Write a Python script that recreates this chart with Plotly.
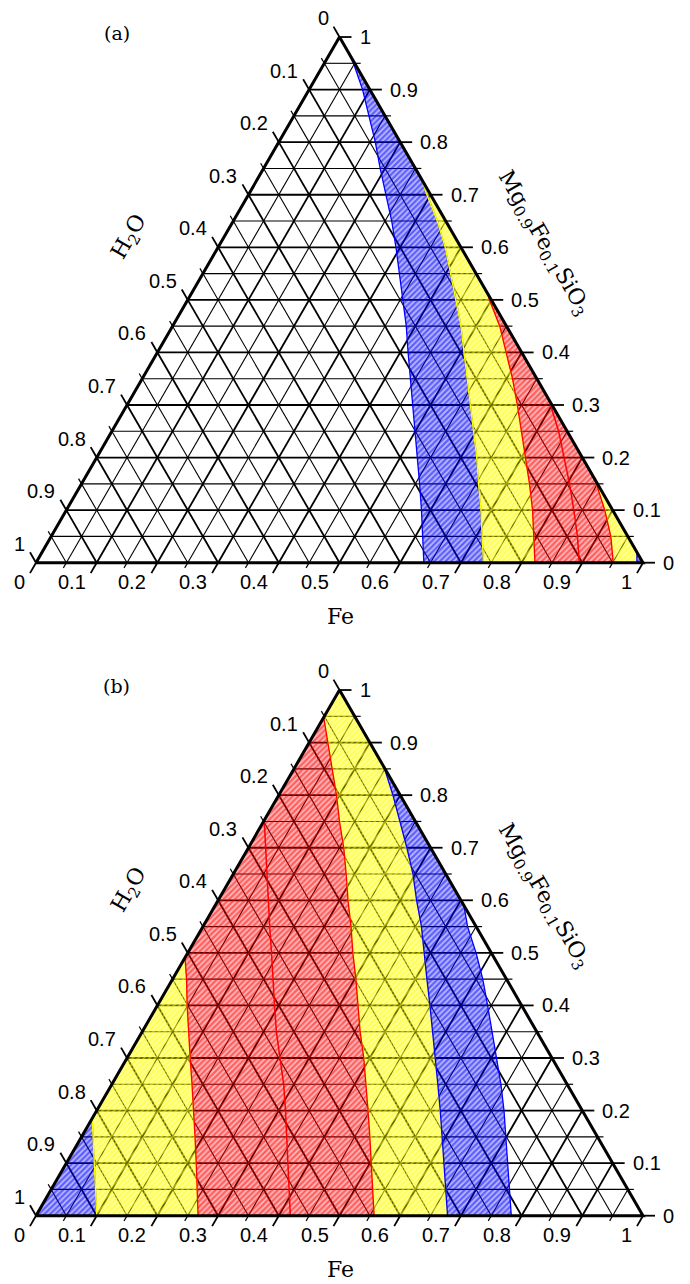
import numpy as np
import plotly.graph_objects as go

# ticks shared by the three axes of both diagrams
TICK_VALUES = [0.0, 0.1, 0.2, 0.3, 0.4, 0.5, 0.6, 0.7, 0.8, 0.9, 1.0]
TICK_TEXT = ["0", "0.1", "0.2", "0.3", "0.4", "0.5", "0.6", "0.7", "0.8", "0.9", "1"]
MINOR_VALUES = [0.05, 0.15, 0.25, 0.35, 0.45, 0.55, 0.65, 0.75, 0.85, 0.95]
MAJOR_VALUES = [0.1, 0.2, 0.3, 0.4, 0.5, 0.6, 0.7, 0.8, 0.9]

# boundary curves as (Mg0.9Fe0.1SiO3, Fe) fractions, from the edge downwards
# panel (a)
A_BLUE_LEFT = [(0.972, 0.028), (0.95, 0.048), (0.90, 0.088), (0.85, 0.124), (0.80, 0.159),
               (0.75, 0.192), (0.70, 0.226), (0.65, 0.261), (0.60, 0.293), (0.55, 0.324),
               (0.50, 0.354), (0.45, 0.385), (0.40, 0.413), (0.35, 0.442), (0.30, 0.470),
               (0.25, 0.499), (0.20, 0.528), (0.15, 0.557), (0.10, 0.585), (0.05, 0.612),
               (0.0, 0.639)]
A_BLUE_YELLOW = [(0.731, 0.269), (0.70, 0.294), (0.65, 0.336), (0.60, 0.374), (0.55, 0.408),
                 (0.50, 0.442), (0.45, 0.475), (0.40, 0.505), (0.35, 0.535), (0.30, 0.565),
                 (0.25, 0.596), (0.20, 0.626), (0.15, 0.654), (0.10, 0.683), (0.05, 0.710),
                 (0.0, 0.737)]
A_YELLOW_RED = [(0.512, 0.488), (0.50, 0.497), (0.45, 0.539), (0.40, 0.575), (0.35, 0.610),
                (0.30, 0.643), (0.25, 0.675), (0.20, 0.707), (0.15, 0.738), (0.10, 0.768),
                (0.05, 0.795), (0.0, 0.822)]
A_RED_INNER = [(0.31, 0.69), (0.25, 0.736), (0.20, 0.770), (0.15, 0.804), (0.10, 0.836),
               (0.05, 0.867), (0.0, 0.895)]
A_RED_YELLOW = [(0.158, 0.842), (0.10, 0.887), (0.05, 0.922), (0.0, 0.951)]
A_YELLOW_BLUE = [(0.02, 0.98), (0.0, 0.99)]

# panel (b)
B_BLUE_YELLOW = [(0.185, 0.0), (0.15, 0.019), (0.10, 0.047), (0.05, 0.073), (0.0, 0.100)]
B_YELLOW_RED = [(0.491, 0.0), (0.45, 0.023), (0.40, 0.049), (0.35, 0.076), (0.30, 0.104),
                (0.25, 0.132), (0.20, 0.160), (0.15, 0.187), (0.10, 0.214), (0.05, 0.241),
                (0.0, 0.267)]
B_RED_INNER = [(0.752, 0.0), (0.70, 0.028), (0.65, 0.056), (0.60, 0.082), (0.55, 0.110),
               (0.50, 0.138), (0.45, 0.165), (0.40, 0.193), (0.35, 0.221), (0.30, 0.252),
               (0.25, 0.283), (0.20, 0.311), (0.15, 0.338), (0.10, 0.366), (0.05, 0.393),
               (0.0, 0.419)]
B_RED_YELLOW = [(0.948, 0.0), (0.90, 0.031), (0.85, 0.063), (0.80, 0.095), (0.75, 0.125),
                (0.70, 0.157), (0.65, 0.186), (0.60, 0.214), (0.55, 0.244), (0.50, 0.272),
                (0.45, 0.302), (0.40, 0.330), (0.35, 0.359), (0.30, 0.390), (0.25, 0.419),
                (0.20, 0.447), (0.15, 0.475), (0.10, 0.502), (0.05, 0.530), (0.0, 0.557)]
B_YELLOW_BLUE = [(0.853, 0.147), (0.80, 0.188), (0.75, 0.225), (0.70, 0.261), (0.65, 0.296),
                 (0.60, 0.327), (0.55, 0.360), (0.50, 0.390), (0.45, 0.419), (0.40, 0.449),
                 (0.35, 0.479), (0.30, 0.508), (0.25, 0.537), (0.20, 0.566), (0.15, 0.594),
                 (0.10, 0.623), (0.05, 0.650), (0.0, 0.678)]
B_BLUE_WHITE = [(0.59, 0.41), (0.55, 0.436), (0.50, 0.475), (0.45, 0.511), (0.40, 0.544),
                (0.35, 0.576), (0.30, 0.608), (0.25, 0.641), (0.20, 0.671), (0.15, 0.699),
                (0.10, 0.728), (0.05, 0.755), (0.0, 0.783)]

BOTTOM_LEFT = [(0.0, 0.0)]
BOTTOM_RIGHT = [(0.0, 1.0)]
TOP = [(1.0, 0.0)]

# stripe colour and the light tint between the stripes
BLUE = ("#0000ff", "rgba(0,0,255,0.25)")
YELLOW = ("#ffff00", "rgba(255,255,0,0.35)")
RED = ("#ff0000", "rgba(255,0,0,0.25)")

# page geometry (pixels)
W, H = 690, 1284
SIDE = 607.0
LEFT = 36.0
BASE_A = 562.7
BASE_B = 1215.7
S3 = np.sqrt(3) / 2
TICK_MAJOR = 12 / SIDE
TICK_MINOR = 6 / SIDE
TICK_FONT = dict(family="Liberation Sans, Arial, sans-serif", size=20, color="black")
TITLE_FONT = dict(family="DejaVu Serif, serif", size=22, color="black")


def to_xy(points):
    mg = np.array([p[0] for p in points])
    fe = np.array([p[1] for p in points])
    return fe + mg / 2, mg * S3


def segments(pairs):
    xs, ys = [], []
    for p, q in pairs:
        x, y = to_xy([p, q])
        xs += list(x) + [None]
        ys += list(y) + [None]
    return xs, ys


def grid_pairs(values):
    pairs = []
    for v in values:
        pairs.append(((v, 0.0), (v, 1 - v)))      # constant Mg
        pairs.append(((0.0, v), (1 - v, v)))      # constant Fe
        pairs.append(((0.0, 1 - v), (1 - v, 0.0)))  # constant H2O
    return pairs


def tick_lines(values, length):
    xs, ys = [], []
    for v in values:
        # left edge, H2O = v
        x, y = to_xy([(1 - v, 0.0)])
        xs += [x[0], x[0] - 0.5 * length, None]
        ys += [y[0], y[0] + S3 * length, None]
        # bottom edge, Fe = v
        x, y = to_xy([(0.0, v)])
        xs += [x[0], x[0] - 0.5 * length, None]
        ys += [y[0], y[0] - S3 * length, None]
        # right edge, Mg = v
        x, y = to_xy([(v, 1 - v)])
        xs += [x[0], x[0] + length, None]
        ys += [y[0], y[0], None]
    return xs, ys


def add_panel(fig, xa, ya, regions, inner, label):
    gx, gy = segments(grid_pairs(MINOR_VALUES))
    fig.add_trace(go.Scatter(x=gx, y=gy, mode="lines", line=dict(color="black", width=1.1),
                             xaxis=xa, yaxis=ya, hoverinfo="skip"))
    gx, gy = segments(grid_pairs(MAJOR_VALUES))
    fig.add_trace(go.Scatter(x=gx, y=gy, mode="lines", line=dict(color="black", width=1.8),
                             xaxis=xa, yaxis=ya, hoverinfo="skip"))

    for points, (color, tint) in regions:
        x, y = to_xy(points)
        fig.add_trace(go.Scatter(
            x=x, y=y, mode="lines", fill="toself", fillcolor=color,
            fillpattern=dict(shape="/", fgcolor=color, bgcolor=tint,
                             size=4, solidity=0.6),
            line=dict(color=color, width=1.3), xaxis=xa, yaxis=ya, hoverinfo="skip"))
    x, y = to_xy(inner)
    fig.add_trace(go.Scatter(x=x, y=y, mode="lines", line=dict(color=RED[0], width=1.5),
                             xaxis=xa, yaxis=ya, hoverinfo="skip"))

    tx, ty = tick_lines(MINOR_VALUES, TICK_MINOR)
    fig.add_trace(go.Scatter(x=tx, y=ty, mode="lines", line=dict(color="black", width=1.2),
                             xaxis=xa, yaxis=ya, hoverinfo="skip"))
    tx, ty = tick_lines(TICK_VALUES, TICK_MAJOR)
    fig.add_trace(go.Scatter(x=tx, y=ty, mode="lines", line=dict(color="black", width=1.8),
                             xaxis=xa, yaxis=ya, hoverinfo="skip"))

    x, y = to_xy(BOTTOM_LEFT + BOTTOM_RIGHT + TOP + BOTTOM_LEFT)
    fig.add_trace(go.Scatter(x=x, y=y, mode="lines", line=dict(color="black", width=3),
                             xaxis=xa, yaxis=ya, hoverinfo="skip"))

    ann = []
    off_lr = 22 / SIDE
    off_r = 18 / SIDE
    for v, t in zip(TICK_VALUES, TICK_TEXT):
        x, y = to_xy([(1 - v, 0.0)])
        ann.append(dict(x=x[0] - 0.5 * off_lr + 2 / SIDE, y=y[0] + S3 * off_lr, text=t,
                        xanchor="right", yanchor="middle", font=TICK_FONT))
        x, y = to_xy([(0.0, v)])
        ann.append(dict(x=x[0] - 0.5 * off_lr + 2 / SIDE, y=y[0] - S3 * off_lr, text=t,
                        xanchor="right", yanchor="middle", font=TICK_FONT))
        x, y = to_xy([(v, 1 - v)])
        ann.append(dict(x=x[0] + off_r, y=y[0], text=t,
                        xanchor="left", yanchor="middle", font=TICK_FONT))
    ann.append(dict(x=0.155, y=0.535, text="H<sub>2</sub>O", textangle=-60,
                    xanchor="center", yanchor="middle", font=TITLE_FONT))
    ann.append(dict(x=0.501, y=-0.089, text="Fe",
                    xanchor="center", yanchor="middle", font=TITLE_FONT))
    ann.append(dict(x=0.836, y=0.526, text="Mg<sub>0.9</sub>Fe<sub>0.1</sub>SiO<sub>3</sub>",
                    textangle=60, xanchor="center", yanchor="middle", font=TITLE_FONT))
    ann.append(dict(x=0.133, y=0.872, text=label, xanchor="center", yanchor="middle",
                    font=dict(family="DejaVu Serif, serif", size=19, color="black")))
    for a in ann:
        a.update(xref=xa, yref=ya, showarrow=False)
    return ann


fig = go.Figure()
ann_a = add_panel(
    fig, "x", "y",
    [(A_BLUE_LEFT + A_BLUE_YELLOW[::-1], BLUE),
     (A_BLUE_YELLOW + A_YELLOW_RED[::-1], YELLOW),
     (A_RED_YELLOW + A_YELLOW_BLUE[::-1], YELLOW),
     (A_YELLOW_BLUE + BOTTOM_RIGHT, BLUE),
     (A_YELLOW_RED + A_RED_YELLOW[::-1], RED)],
    A_RED_INNER, "(a)")
ann_b = add_panel(
    fig, "x2", "y2",
    [(B_BLUE_YELLOW + BOTTOM_LEFT, BLUE),
     (B_YELLOW_RED + B_BLUE_YELLOW[::-1], YELLOW),
     (B_YELLOW_BLUE + B_RED_YELLOW[::-1] + TOP, YELLOW),
     (B_BLUE_WHITE + B_YELLOW_BLUE[::-1], BLUE),
     (B_RED_YELLOW + B_YELLOW_RED[::-1], RED)],
    B_RED_INNER, "(b)")

half = H / 2
x_range = [-LEFT / SIDE, (W - LEFT) / SIDE]
fig.update_layout(
    width=W,
    height=H,
    margin=dict(l=0, r=0, t=0, b=0),
    paper_bgcolor="white",
    plot_bgcolor="white",
    showlegend=False,
    hovermode=False,
    annotations=ann_a + ann_b,
    xaxis=dict(domain=[0, 1], range=x_range, visible=False, fixedrange=True, anchor="y"),
    yaxis=dict(domain=[0.5, 1], range=[-(half - BASE_A) / SIDE, BASE_A / SIDE],
               visible=False, fixedrange=True, anchor="x"),
    xaxis2=dict(domain=[0, 1], range=x_range, visible=False, fixedrange=True, anchor="y2"),
    yaxis2=dict(domain=[0, 0.5], range=[-(H - BASE_B) / SIDE, (BASE_B - half) / SIDE],
                visible=False, fixedrange=True, anchor="x2"),
)

fig.write_html("out.html", config={"displayModeBar": False},
               post_script="document.body.style.margin='0';")
